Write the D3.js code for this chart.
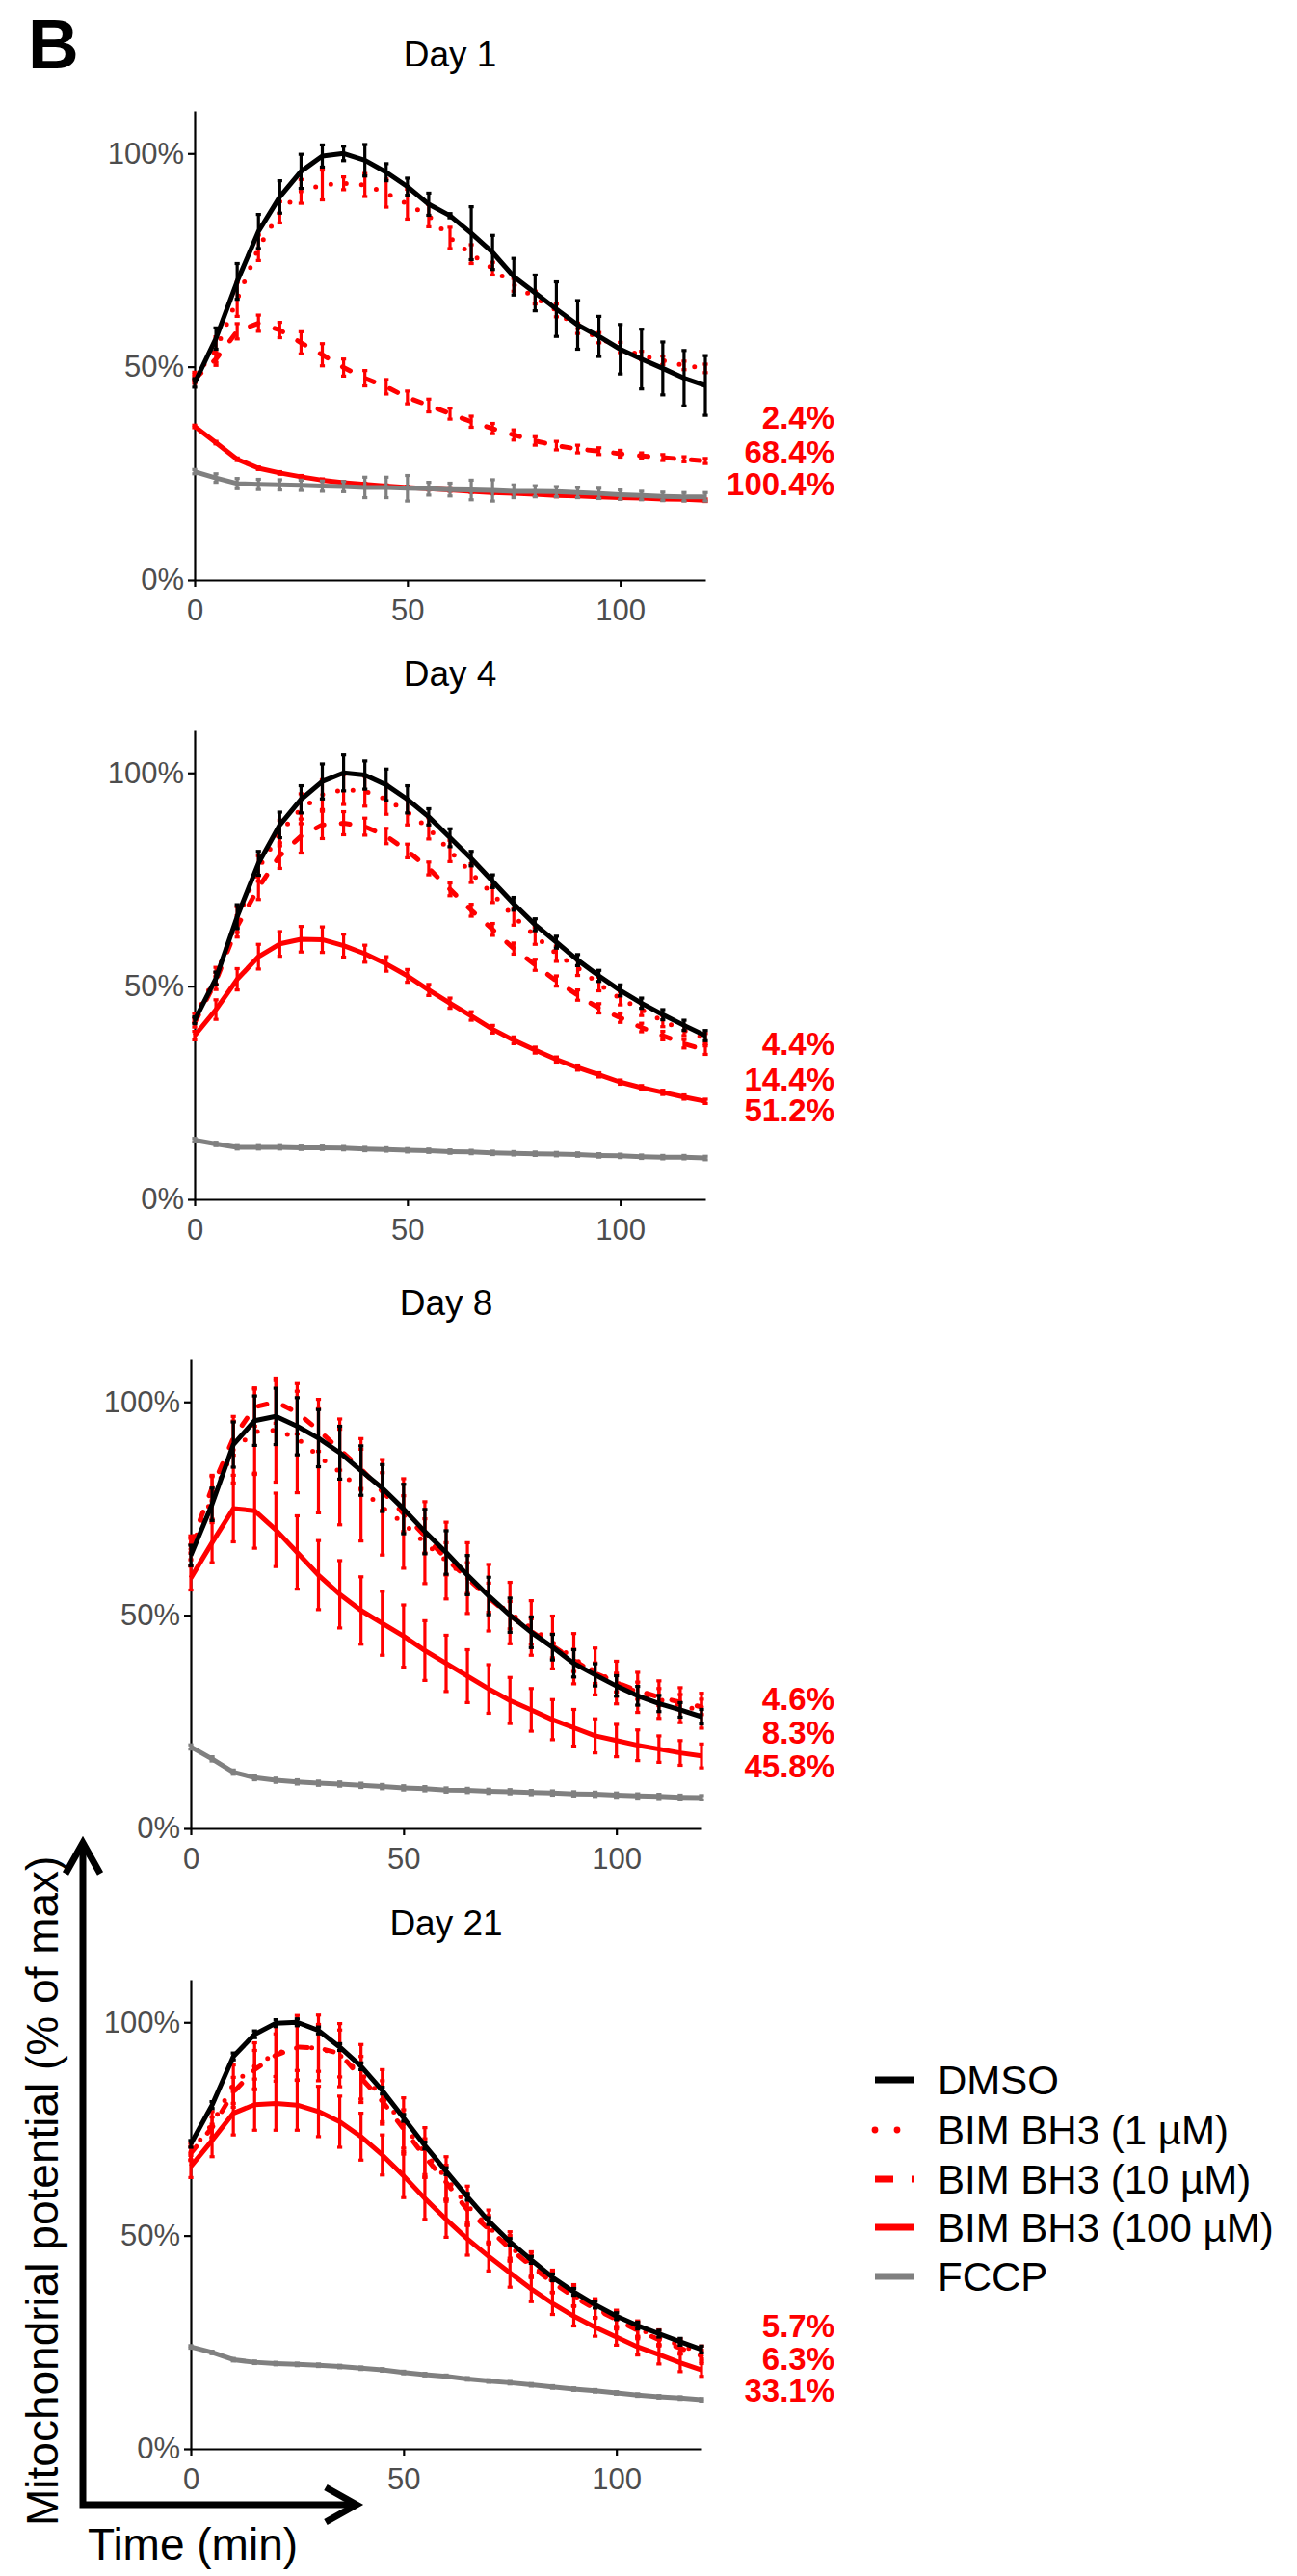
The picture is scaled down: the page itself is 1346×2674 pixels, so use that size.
<!DOCTYPE html>
<html>
<head>
<meta charset="utf-8">
<script src="https://cdn.jsdelivr.net/npm/d3@7"></script>
<style>
body { margin: 0; background: #fff; }
text { font-family: "Liberation Sans", Arial, sans-serif; }
</style>
</head>
<body>
<svg id="fig" width="1346" height="2674"></svg>
<script>
// time points (min)
var time = [0,5,10,15,20,25,30,35,40,45,50,55,60,65,70,75,80,85,90,95,100,105,110,115,120];
var days = ["Day 1", "Day 4", "Day 8", "Day 21"];
var groups = ["DMSO", "BIM BH3 (1 µM)", "BIM BH3 (10 µM)", "BIM BH3 (100 µM)", "FCCP"];
var xTicks = [0, 50, 100];
var yTicks = [0, 50, 100];

// Day 1 (% of max)
var d1_dmso = [46.2,56.6,70.0,81.7,89.8,95.8,99.4,100,98.4,95.6,92.2,88.1,85.4,81.3,76.8,71.1,67.3,63.5,59.8,57.1,54.1,51.8,49.6,47.3,45.6];
var d1_1    = [47.7,54,65.8,77.9,86.2,91.1,92.6,93,92.6,90.7,88.1,85.4,80.2,76.4,73,69.2,66.2,63.2,59,56.8,54.5,52.6,51.5,50.3,49.6];
var d1_10   = [47.1,51.8,58.3,60.2,58.6,55.6,52.8,49.8,47.3,45.3,42.8,40.9,39,37.1,35.5,34,32.6,31.5,30.7,30.2,29.6,29.1,28.7,28.3,27.9];
var d1_100  = [36,32.2,28.3,26.2,25.1,24.2,23.4,22.8,22.4,22,21.7,21.4,21.1,20.8,20.5,20.3,20.1,19.8,19.7,19.5,19.3,19.2,19,18.9,18.7];
var d1_fccp = [25.4,23.9,22.6,22.4,22.3,22.2,22,21.9,21.7,21.7,21.5,21.4,21.2,21.1,21,20.8,20.8,20.7,20.5,20.3,20,19.8,19.6,19.5,19.5];
var d1_dmso_se = [1,2.5,4.2,4,3.8,4,2.6,1.7,3.7,2,2,2.6,0.5,6.2,4,4.3,4.2,6.4,5.7,4.7,5.8,7,6.2,6.5,7];
var d1_1_se    = [1,3,4,3,2.5,2.8,3.5,1.5,2.7,3.3,3.5,2.6,2.5,2.2,1.5,1.5,1.5,1.5,1.2,1.2,1.2,1,1,1,1];
var d1_10_se   = [1,1.5,1.8,1.9,1.8,2.6,2.6,2,1.8,1.7,1.5,1.5,1.3,1.3,1.2,1.2,1,1,0.9,0.8,0.8,0.7,0.7,0.6,0.6];
var d1_100_se  = [0.3,0.3,0.3,0.3,0.3,0.3,0.3,0.3,0.3,0.3,0.3,0.3,0.3,0.3,0.3,0.3,0.3,0.3,0.3,0.3,0.3,0.3,0.3,0.3,0.3];
var d1_fccp_se = [0.5,1,1.2,1.2,1.2,1.2,1.2,1.2,2.4,2.4,3,1.5,1.5,2.3,2.5,1.5,1.3,1.2,1.2,1.2,1.1,1,1,1,1];

// Day 4
var d4_dmso = [42,51.8,66.3,78.8,87.8,93.8,98,100,99.5,97.2,93.8,89.7,84.8,79.9,74.6,69.3,64.4,60.3,56.1,52.4,49,46,43.3,40.8,38.4];
var d4_1    = [42.6,52.4,65.6,77.6,85.9,91.6,94.9,96.1,95.7,93.8,90.8,87,81.7,76.5,71.6,66.3,61.8,57.6,54.3,50.5,47.1,44.5,41.8,39.6,37.7];
var d4_10   = [41.4,51.2,64,73.1,80.6,85.2,87.8,88.2,87.4,85.2,81.7,77.6,72.7,67.8,63.3,58.8,55,51.2,47.9,44.8,42.6,40.3,38.4,36.5,35];
var d4_100  = [38.4,44.5,51.6,56.9,59.9,61,60.9,59.5,57.6,55.2,52.4,49.1,46,43,39.9,37.3,35,32.8,30.9,29.2,27.5,26.2,25.1,24,23];
var d4_fccp = [13.9,13,12.2,12.2,12.2,12.1,12.1,12,11.8,11.7,11.5,11.4,11.2,11.1,10.9,10.8,10.7,10.6,10.5,10.3,10.2,10,9.9,9.9,9.7];
var d4_dmso_se = [0.8,1.5,2.8,2.8,3,3.2,4.1,4.2,3.3,3.7,3.2,1.9,2.1,1.7,1.5,1.5,1.4,1.4,1.3,1.3,1.3,1.2,1.2,1.2,1.2];
var d4_1_se    = [1,2,3,3,3,3.5,3.5,3.5,3.5,3.5,3,2.5,2.5,2.2,2,2,2,1.8,1.8,1.6,1.5,1.4,1.3,1.2,1.2];
var d4_10_se   = [1,2,2.5,2.8,3,4,3.2,2.7,2,1.8,1.6,1.5,1.5,1.4,1.4,1.3,1.3,1.2,1.2,1.1,1.1,1,1,1,1];
var d4_100_se  = [1,2.3,2.5,2.9,2.9,3,3,2.7,2,1.7,1.5,1.3,1.2,1,0.9,0.8,0.7,0.6,0.6,0.5,0.5,0.5,0.5,0.5,0.5];
var d4_fccp_se = [0.4,0.4,0.4,0.4,0.4,0.4,0.4,0.4,0.4,0.4,0.4,0.4,0.4,0.4,0.4,0.4,0.4,0.4,0.4,0.4,0.4,0.4,0.4,0.4,0.4];

// Day 8
var d8_dmso = [64,76,90,95.6,96.6,94.3,91.5,88.1,83.9,79.8,74.9,69.6,64.7,59.4,54.5,50,46,42.5,38.7,36,33.4,31.1,29.3,27.8,26.2];
var d8_1    = [65.5,77.5,88.8,93,93.4,91.5,87.3,83.6,79.4,75.3,71.5,67,62.8,58.7,54.1,50.5,47,43.6,39.8,36.8,34.2,31.9,30.2,28.9,27.6];
var d8_10   = [66.6,79.8,91.5,98.8,100,97.5,93.4,88.8,84.3,79,73.8,68.6,63.2,58.7,54.1,50,46.2,42.8,39.4,36.4,34.2,32.3,30.8,29.6,28.5];
var d8_100  = [58.7,67,75,74.5,70,64.7,59.4,54.9,51.1,48.1,45.1,41.7,38.7,35.7,32.7,30,27.8,25.5,23.6,21.7,20.6,19.5,18.6,17.7,17];
var d8_fccp = [19.1,16.3,13.2,11.9,11.3,10.9,10.6,10.4,10.1,9.8,9.5,9.3,9,8.9,8.7,8.6,8.4,8.3,8.1,8,7.8,7.6,7.5,7.3,7.2];
var d8_dmso_se = [2.4,3.8,5.3,5.8,6.6,6.7,6.7,6.2,5.8,5.5,5.8,5.2,5.1,4.6,4.4,4,3.6,3,3.2,2.6,2.4,2.2,1.9,1.7,1.7];
var d8_1_se    = [2.5,5,7.8,10,12.2,12.8,13.3,12.4,12,11.2,10.5,9.6,9,8.3,7.8,7.2,6.4,6.2,5.9,5.5,5,4.7,4.4,4.1,4.1];
var d8_10_se   = [2,3,4,4.5,5,5,5,4.8,4.6,4.4,4.2,4,3.8,3.6,3.4,3.2,3,2.8,2.6,2.4,2.2,2,2,1.8,1.8];
var d8_100_se  = [2.8,4.7,7.8,8.8,8.6,8.6,8.1,7.9,7.9,7.5,7.3,7,6.6,6.2,5.7,5.4,5,4.7,4.3,4,3.8,3.6,3.1,2.9,2.8];
var d8_fccp_se = [0.5,0.5,0.5,0.5,0.5,0.5,0.5,0.5,0.5,0.5,0.5,0.5,0.5,0.5,0.5,0.5,0.5,0.5,0.5,0.5,0.5,0.5,0.5,0.5,0.5];

// Day 21
var d21_dmso = [71.5,80.6,92,97.2,99.8,100,98.1,94.2,89.7,84,77.6,71.1,65.1,59.1,53.4,48.5,44.3,40.2,36.8,33.8,31.1,28.9,27,25.1,23.3];
var d21_1    = [69.6,76.1,85.5,89.7,92.7,94,94,92.3,88,82.5,76,69.5,63.5,57,52,47.5,43.2,39.3,36,33,30.6,28.2,26.2,24.2,22.6];
var d21_10   = [69.3,75.3,83.6,88.9,92.3,94.2,94,92.7,87,81.5,75,68.5,62.5,56,51.5,47,42.8,39,35.7,32.8,30.3,27.8,25.6,23.6,21.8];
var d21_100  = [66.2,72.3,78.7,80.7,81,80.6,79.1,76.7,73.2,68.9,64,58.7,53.8,49.2,45.1,41.3,37.5,34.1,31.1,28.5,26.2,23.9,22.1,20.2,18.5];
var d21_fccp = [23.9,22.6,20.9,20.3,20,19.8,19.6,19.3,18.9,18.5,17.9,17.4,17,16.4,15.9,15.5,15,14.5,14,13.6,13.1,12.6,12.2,11.9,11.5];
var d21_dmso_se = [0.8,0.8,0.8,0.8,0.8,0.8,0.8,0.8,0.8,0.8,0.8,0.8,0.8,0.8,0.8,0.8,0.8,0.8,0.8,0.8,0.8,0.8,0.8,0.8,0.8];
var d21_1_se    = [2,3,4.5,5.5,6.5,7.6,7.7,7.4,6.8,6.4,6.3,5.8,5,4.6,4,3.4,3,2.6,2.5,2.2,1.9,1.8,1.7,1.6,1.5];
var d21_10_se   = [1.5,2.5,3.5,4.5,5,5.5,5.5,5.5,5,4.8,4.5,4.2,4,3.6,3.2,3,2.6,2.4,2.2,2,1.8,1.6,1.5,1.4,1.3];
var d21_100_se  = [2.6,3.8,5.1,6,6.3,5.9,5.9,6,5.5,4.7,5.1,4.9,4.2,3.8,3.4,3.4,3,2.6,2.3,2.1,1.9,1.9,2.2,2.1,1.5];
var d21_fccp_se = [0.3,0.3,0.3,0.3,0.3,0.3,0.3,0.3,0.3,0.3,0.3,0.3,0.3,0.3,0.3,0.3,0.3,0.3,0.3,0.3,0.3,0.3,0.3,0.3,0.3];

// red annotations at the right of each panel (text, and the % level they sit at)
var labelText = [["2.4%","68.4%","100.4%"], ["4.4%","14.4%","51.2%"], ["4.6%","8.3%","45.8%"], ["5.7%","6.3%","33.1%"]];
var labelLevel = [[38.1,30.0,22.6], [36.6,28.2,21.0], [30.5,22.6,14.7], [28.9,21.2,13.8]];

var means = [
  [d1_dmso, d1_1, d1_10, d1_100, d1_fccp],
  [d4_dmso, d4_1, d4_10, d4_100, d4_fccp],
  [d8_dmso, d8_1, d8_10, d8_100, d8_fccp],
  [d21_dmso, d21_1, d21_10, d21_100, d21_fccp]
];
var errs = [
  [d1_dmso_se, d1_1_se, d1_10_se, d1_100_se, d1_fccp_se],
  [d4_dmso_se, d4_1_se, d4_10_se, d4_100_se, d4_fccp_se],
  [d8_dmso_se, d8_1_se, d8_10_se, d8_100_se, d8_fccp_se],
  [d21_dmso_se, d21_1_se, d21_10_se, d21_100_se, d21_fccp_se]
];

// styling per group
var colors = ["#000000", "#ff0000", "#ff0000", "#ff0000", "#808080"];
var dashes = [null, "0 16", "9 18", null, null];
var caps = ["butt", "round", "round", "butt", "butt"];
var drawOrder = [3, 2, 1, 4, 0];

var panelTop = [115, 758, 1411, 2055];
var panelLeft = [202, 202, 198, 198];
var panelW = 530, panelH = 487;

var svg = d3.select("#fig");

days.forEach(function(day, i) {
  var x = d3.scaleLinear().domain([0, 120]).range([panelLeft[i], panelLeft[i] + panelW]);
  var y = d3.scaleLinear().domain([0, 110]).range([panelTop[i] + panelH, panelTop[i]]);
  var g = svg.append("g");

  g.append("text")
    .attr("x", x(60))
    .attr("y", panelTop[i] - 46)
    .attr("text-anchor", "middle")
    .style("font-size", "37px")
    .text(day);

  var xa = g.append("g")
    .attr("transform", "translate(0," + y(0) + ")")
    .call(d3.axisBottom(x).tickValues(xTicks).tickSize(7).tickSizeOuter(0).tickPadding(13));
  var ya = g.append("g")
    .attr("transform", "translate(" + x(0) + ",0)")
    .call(d3.axisLeft(y).tickValues(yTicks).tickSize(7).tickSizeOuter(0).tickPadding(4)
      .tickFormat(function(d) { return d + "%"; }));
  [xa, ya].forEach(function(a) {
    a.select(".domain").attr("stroke", "#000").attr("stroke-width", 2.2);
    a.selectAll(".tick line").attr("stroke", "#000").attr("stroke-width", 2.2);
    a.selectAll(".tick text")
      .attr("fill", "#4d4d4d")
      .style("font-size", "31px")
      .style("font-family", "'Liberation Sans', Arial, sans-serif");
  });

  var line = d3.line()
    .x(function(d) { return x(d[0]); })
    .y(function(d) { return y(d[1]); });

  drawOrder.forEach(function(k) {
    var pts = time.map(function(t, j) { return [t, means[i][k][j], errs[i][k][j]]; });
    var eb = g.append("g").attr("stroke", colors[k]).attr("stroke-width", 3.2).attr("fill", "none");
    pts.forEach(function(p) {
      var y1 = y(p[1] - p[2]), y2 = y(p[1] + p[2]);
      eb.append("line").attr("x1", x(p[0])).attr("x2", x(p[0])).attr("y1", y1).attr("y2", y2);
      eb.append("line").attr("x1", x(p[0]) - 2.6).attr("x2", x(p[0]) + 2.6).attr("y1", y1).attr("y2", y1);
      eb.append("line").attr("x1", x(p[0]) - 2.6).attr("x2", x(p[0]) + 2.6).attr("y1", y2).attr("y2", y2);
    });
    g.append("path")
      .datum(pts)
      .attr("d", line)
      .attr("fill", "none")
      .attr("stroke", colors[k])
      .attr("stroke-width", 5)
      .attr("stroke-linejoin", "round")
      .attr("stroke-linecap", caps[k])
      .attr("stroke-dasharray", dashes[k]);
  });

  labelText[i].forEach(function(s, j) {
    g.append("text")
      .attr("x", 866)
      .attr("y", y(labelLevel[i][j]))
      .attr("dy", "0.36em")
      .attr("text-anchor", "end")
      .attr("fill", "#ff0000")
      .style("font-size", "33px")
      .style("font-weight", "bold")
      .text(s);
  });
});

// legend
var legY = [2159, 2211, 2262, 2312, 2363];
var legDash = [null, "0 23", "19 19", null, null];
var legCap = ["butt", "round", "butt", "butt", "butt"];
var leg = svg.append("g");
groups.forEach(function(name, k) {
  leg.append("line")
    .attr("x1", 908).attr("x2", 949)
    .attr("y1", legY[k]).attr("y2", legY[k])
    .attr("stroke", colors[k])
    .attr("stroke-width", 6.8)
    .attr("stroke-linecap", legCap[k])
    .attr("stroke-dasharray", legDash[k]);
  leg.append("text")
    .attr("x", 973)
    .attr("y", legY[k])
    .attr("dy", "0.36em")
    .style("font-size", "42px")
    .text(name);
});

// panel letter
svg.append("text")
  .attr("x", 29).attr("y", 71)
  .style("font-size", "73px")
  .style("font-weight", "bold")
  .text("B");

// shared axis arrows and titles
svg.append("path")
  .attr("d", "M86,1914 L86,2600 L370,2600")
  .attr("fill", "none").attr("stroke", "#000").attr("stroke-width", 7)
  .attr("stroke-linejoin", "miter");
svg.append("path")
  .attr("d", "M68,1945 L86,1913 L104,1945")
  .attr("fill", "none").attr("stroke", "#000").attr("stroke-width", 7)
  .attr("stroke-linejoin", "miter");
svg.append("path")
  .attr("d", "M338,2582 L370,2600 L338,2618")
  .attr("fill", "none").attr("stroke", "#000").attr("stroke-width", 7)
  .attr("stroke-linejoin", "miter");

svg.append("text")
  .attr("transform", "translate(60,2622) rotate(-90)")
  .style("font-size", "46px")
  .text("Mitochondrial potential (% of max)");

svg.append("text")
  .attr("x", 91).attr("y", 2657)
  .style("font-size", "46px")
  .text("Time (min)");
</script>
</body>
</html>
